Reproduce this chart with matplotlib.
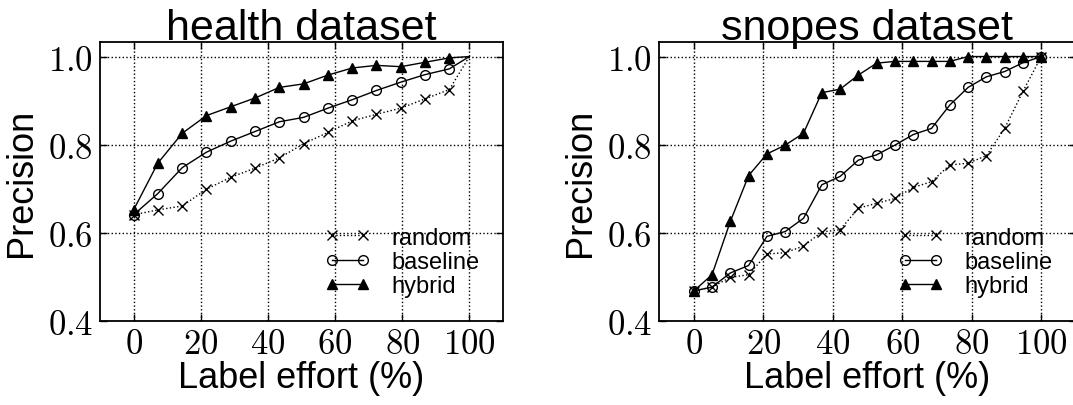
import numpy as np
import matplotlib
matplotlib.use("Agg")
import matplotlib.pyplot as plt

plt.rcParams["font.family"] = ["Liberation Sans", "DejaVu Sans"]
plt.rcParams["mathtext.fontset"] = "cm"

# --- data ---
health_x = [0, 7.2, 14.5, 21.7, 28.9, 36.2, 43.4, 50.6, 57.9, 65.1, 72.3, 79.6, 86.8, 94.0, 100]
health_random = [0.641, 0.652, 0.661, 0.699, 0.726, 0.747, 0.770, 0.802, 0.828, 0.854,
                 0.869, 0.883, 0.904, 0.925, 1.0]
health_baseline = [0.641, 0.689, 0.748, 0.783, 0.808, 0.830, 0.852, 0.862, 0.883, 0.902,
                   0.923, 0.942, 0.959, 0.972, 1.0]
health_hybrid = [0.652, 0.758, 0.826, 0.866, 0.886, 0.906, 0.930, 0.938, 0.958, 0.974,
                 0.980, 0.977, 0.987, 0.997, 1.0]

snopes_x = [0, 5.26, 10.53, 15.79, 21.05, 26.32, 31.58, 36.84, 42.11, 47.37,
            52.63, 57.89, 63.16, 68.42, 73.68, 78.95, 84.21, 89.47, 94.74, 100]
snopes_random = [0.468, 0.477, 0.499, 0.505, 0.552, 0.555, 0.570, 0.602, 0.607, 0.656,
                 0.667, 0.678, 0.703, 0.716, 0.754, 0.758, 0.775, 0.837, 0.921, 1.0]
snopes_baseline = [0.468, 0.477, 0.509, 0.526, 0.592, 0.603, 0.633, 0.709, 0.728, 0.765,
                   0.777, 0.799, 0.823, 0.837, 0.890, 0.930, 0.954, 0.966, 0.986, 1.0]
snopes_hybrid = [0.468, 0.505, 0.626, 0.730, 0.779, 0.799, 0.826, 0.918, 0.926, 0.958,
                 0.985, 0.989, 0.989, 0.989, 0.989, 1.0, 1.0, 1.0, 1.0, 1.0]

x_ticks = [0, 20, 40, 60, 80, 100]
y_ticks = [0.4, 0.6, 0.8, 1.0]

W, H = 1073, 406
fig = plt.figure(figsize=(W / 100, H / 100), dpi=100)

panels = [
    ("health dataset", health_x, health_random, health_baseline, health_hybrid,
     [100, 84, 403, 279], slice(0, -1)),
    ("snopes dataset", snopes_x, snopes_random, snopes_baseline, snopes_hybrid,
     [659, 84, 417, 279], slice(None)),
]

for title, xs, r, b, h, box, mev in panels:
    ax = fig.add_axes([box[0] / W, box[1] / H, box[2] / W, box[3] / H])
    n = len(xs)
    every = list(range(n))[mev]
    ax.plot(xs, r, color="k", ls=":", lw=1, marker="x", ms=7, mew=1,
            markevery=every, label="random")
    ax.plot(xs, b, color="k", ls="-", lw=1, marker="o", ms=7, mfc="none", mew=1,
            markevery=every, label="baseline")
    ax.plot(xs, h, color="k", ls="-", lw=1, marker="^", ms=7.5, mew=1,
            markevery=every, label="hybrid")

    ax.set_xlim(-10, 110)
    ax.set_ylim(0.4, 1.033)
    ax.set_xticks(x_ticks)
    ax.set_xticklabels([f"${t}$" for t in x_ticks])
    ax.set_yticks(y_ticks)
    ax.set_yticklabels([f"${t:.1f}$" for t in y_ticks])
    ax.tick_params(direction="in", top=True, right=True, length=5, width=1,
                   labelsize=25)
    ax.tick_params(axis="x", pad=4)
    ax.tick_params(axis="y", pad=5)
    ax.grid(True, color="k", ls=":", lw=1)
    for s in ax.spines.values():
        s.set_linewidth(1.3)

    ax.set_title(title, fontsize=31, pad=2)
    ax.set_xlabel("Label effort (%)", fontsize=26, labelpad=0)
    ax.set_ylabel("Precision", fontsize=26, labelpad=6)
    ax.legend(loc="lower right", frameon=False, fontsize=17, numpoints=2,
              handlelength=1.9, labelspacing=0.1, handletextpad=0.9,
              borderaxespad=0.6, bbox_to_anchor=(1.0, 0.0))

fig.savefig("out.png", dpi=100)
